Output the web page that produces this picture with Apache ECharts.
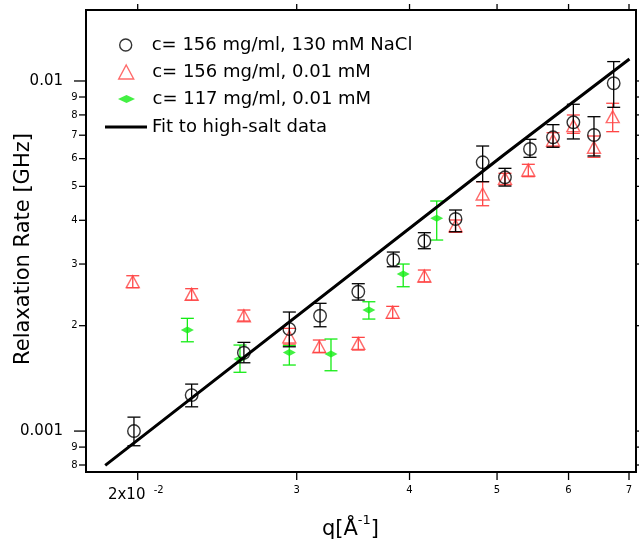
<!DOCTYPE html>
<html>
<head>
<meta charset="utf-8">
<script src="https://cdn.jsdelivr.net/npm/echarts@6/dist/echarts.min.js"></script>
<style>
  html, body { margin: 0; padding: 0; background: #fff; }
  #chart { width: 639px; height: 549px; }
</style>
</head>
<body>
<div id="chart"></div>
<script>
// ---- Axis ranges (q in 1/Å, relaxation rate in GHz) ----
const qMin = 0.01753, qMax = 0.07126;
const rateMin = 0.000764, rateMax = 0.01595;

// ---- Tick values and labels ----
const qTicks = [0.02, 0.03, 0.04, 0.05, 0.06, 0.07];
const qTickLabels = ['2x10', '3', '4', '5', '6', '7'];
const qTickExponents = ['-2', '', '', '', '', ''];
const rateMajorTicks = [0.001, 0.01];
const rateMajorLabels = ['0.001', '0.01'];
const rateMinorTicks = [0.0008, 0.0009, 0.002, 0.003, 0.004, 0.005, 0.006, 0.007, 0.008, 0.009];
const rateMinorLabels = ['8', '9', '2', '3', '4', '5', '6', '7', '8', '9'];

// ---- c = 156 mg/ml, 130 mM NaCl ----
const nameSalt = 'c= 156 mg/ml, 130 mM NaCl';
const qSalt = [0.01981, 0.02295, 0.02622, 0.02944, 0.03184, 0.0351, 0.03838, 0.04154,
               0.04498, 0.0482, 0.05102, 0.05438, 0.05767, 0.06074, 0.06402, 0.06732];
const rateSalt = [0.001000, 0.001267, 0.001674, 0.001956, 0.002135, 0.002500, 0.00308, 0.00349,
                  0.004034, 0.005858, 0.005307, 0.006393, 0.006905, 0.00762, 0.00701, 0.00985];
const rateSaltLo = [0.000908, 0.001173, 0.001567, 0.001741, 0.001986, 0.002367, 0.002947, 0.003318,
                    0.00371, 0.005156, 0.00501, 0.006053, 0.006466, 0.00683, 0.006107, 0.00841];
const rateSaltHi = [0.001096, 0.001362, 0.001792, 0.002188, 0.002317, 0.002636, 0.003246, 0.003687,
                    0.00428, 0.00652, 0.00563, 0.006814, 0.007503, 0.00858, 0.007907, 0.01136];

// ---- c = 156 mg/ml, 0.01 mM ----
const nameLow = 'c= 156 mg/ml, 0.01 mM';
const qLow = [0.01975, 0.02295, 0.02622, 0.02944, 0.03178, 0.0351, 0.03832, 0.04154,
              0.04498, 0.0482, 0.05102, 0.05415, 0.05767, 0.06074, 0.06402, 0.06715];
const rateLow = [0.002671, 0.002458, 0.002135, 0.001859, 0.001741, 0.001780, 0.002184, 0.002773,
                 0.00386, 0.004755, 0.005272, 0.005568, 0.006785, 0.007454, 0.006466, 0.007907];
const rateLowLo = [0.002567, 0.002367, 0.002062, 0.001772, 0.001678, 0.001704, 0.002099, 0.002666,
                   0.003696, 0.004402, 0.005046, 0.00533, 0.006492, 0.007088, 0.006053, 0.007165];
const rateLowHi = [0.002778, 0.002551, 0.002217, 0.001965, 0.001820, 0.001852, 0.002271, 0.002884,
                   0.004008, 0.005156, 0.005449, 0.005781, 0.007116, 0.007996, 0.006964, 0.008637];

// ---- c = 117 mg/ml, 0.01 mM ----
const nameMid = 'c= 117 mg/ml, 0.01 mM';
const qMid = [0.0227, 0.02596, 0.02944, 0.03274, 0.03606, 0.03936, 0.04287];
const rateMid = [0.001943, 0.001606, 0.001678, 0.001660, 0.002217, 0.002809, 0.004053];
const rateMidLo = [0.001799, 0.001472, 0.001544, 0.001487, 0.002089, 0.002584, 0.003513];
const rateMidHi = [0.002099, 0.001761, 0.001755, 0.001832, 0.002341, 0.003000, 0.004541];

// ---- Fit to high-salt data ----
const nameFit = 'Fit to high-salt data';
const fitQ = [0.01841, 0.05102, 0.07008];
const fitRate = [0.000798, 0.006185, 0.011557];

const RED = '#ff4545';
const GREEN = '#14ec14';
const FONT = '"DejaVu Sans", sans-serif';

function errorBar(color) {
  return function (params, api) {
    const q = api.value(0);
    const lo = api.coord([q, api.value(1)]);
    const hi = api.coord([q, api.value(2)]);
    const half = 6.5;
    const style = { stroke: color, lineWidth: 1.3, fill: null };
    return {
      type: 'group',
      children: [
        { type: 'line', shape: { x1: hi[0], y1: hi[1], x2: lo[0], y2: lo[1] }, style: style },
        { type: 'line', shape: { x1: hi[0] - half, y1: hi[1], x2: hi[0] + half, y2: hi[1] }, style: style },
        { type: 'line', shape: { x1: lo[0] - half, y1: lo[1], x2: lo[0] + half, y2: lo[1] }, style: style }
      ]
    };
  };
}

function zip(xs, a, b) {
  return xs.map((x, i) => b ? [x, a[i], b[i]] : [x, a[i]]);
}

// Bottom and top ticks of the q axis, with the bottom labels
function qTickRenderer(params, api) {
  const i = params.dataIndex;
  const q = api.value(0);
  const b = api.coord([q, rateMin]);
  const t = api.coord([q, rateMax]);
  const ts = { stroke: '#000', lineWidth: 1.3 };
  const children = [
    { type: 'line', shape: { x1: b[0], y1: b[1], x2: b[0], y2: b[1] + 8 }, style: ts },
    { type: 'line', shape: { x1: t[0], y1: t[1], x2: t[0], y2: t[1] - 6 }, style: ts }
  ];
  if (qTickExponents[i]) {
    children.push({ type: 'text', x: b[0] - 11, y: b[1] + 23,
      style: { text: qTickLabels[i], font: '15px ' + FONT, fill: '#000', align: 'center', verticalAlign: 'middle' } });
    children.push({ type: 'text', x: b[0] + 21, y: b[1] + 18,
      style: { text: qTickExponents[i], font: '10px ' + FONT, fill: '#000', align: 'center', verticalAlign: 'middle' } });
  } else {
    children.push({ type: 'text', x: b[0], y: b[1] + 18,
      style: { text: qTickLabels[i], font: '10px ' + FONT, fill: '#000', align: 'center', verticalAlign: 'middle' } });
  }
  return { type: 'group', children: children };
}

// Left and right ticks of the rate axis
function rateTickRenderer(labels, major) {
  return function (params, api) {
    const i = params.dataIndex;
    const v = api.value(1);
    const l = api.coord([qMin, v]);
    const r = api.coord([qMax, v]);
    const ts = { stroke: '#000', lineWidth: 1.3 };
    const len = major ? 12 : 7;
    return {
      type: 'group',
      children: [
        { type: 'line', shape: { x1: l[0] - len, y1: l[1], x2: l[0], y2: l[1] }, style: ts },
        { type: 'line', shape: { x1: r[0], y1: r[1], x2: r[0] + 4, y2: r[1] }, style: ts },
        { type: 'text', x: l[0] - (major ? 23 : 8.5), y: l[1],
          style: { text: labels[i], font: (major ? '15px ' : '10px ') + FONT, fill: '#000',
                   align: 'right', verticalAlign: 'middle' } }
      ]
    };
  };
}

const legendBase = {
  orient: 'horizontal', padding: 0, itemGap: 0, selectedMode: false, itemWidth: 42,
  textStyle: { fontFamily: 'DejaVu Sans', fontSize: 18, color: '#000' }
};

const option = {
  animation: false,
  backgroundColor: '#fff',
  grid: {
    left: 86, right: 3, top: 10, bottom: 77,
    show: true, borderColor: '#000', borderWidth: 2,
    containLabel: false, outerBoundsMode: 'none'
  },
  xAxis: {
    type: 'log', logBase: 10, min: qMin, max: qMax,
    axisLine: { show: false }, axisTick: { show: false }, axisLabel: { show: false }, splitLine: { show: false },
    name: '{b|q[Å}{s|-1}{b|]}', nameLocation: 'middle', nameGap: 42,
    nameTextStyle: {
      padding: [0, 21, 0, 0],
      rich: {
        b: { fontFamily: 'DejaVu Sans', fontSize: 21, color: '#000', lineHeight: 26, verticalAlign: 'bottom' },
        s: { fontFamily: 'DejaVu Sans', fontSize: 13, color: '#000', lineHeight: 26, verticalAlign: 'top' }
      }
    }
  },
  yAxis: {
    type: 'log', logBase: 10, min: rateMin, max: rateMax,
    axisLine: { show: false }, axisTick: { show: false }, axisLabel: { show: false }, splitLine: { show: false },
    name: 'Relaxation Rate [GHz]', nameLocation: 'middle', nameGap: 52, nameRotate: 90,
    nameTextStyle: { fontFamily: 'DejaVu Sans', fontSize: 21, color: '#000', padding: [0, 16, 0, 0] }
  },
  legend: [
    Object.assign({}, legendBase, {
      left: 119, top: 36, itemHeight: 12, data: [{ name: nameSalt, icon: 'circle' }],
      itemStyle: { color: 'rgba(0,0,0,0)', borderColor: '#000', borderWidth: 1.4 }
    }),
    Object.assign({}, legendBase, {
      left: 118, top: 63, itemHeight: 14, data: [{ name: nameLow, icon: 'path://M0,0L7.5,14L-7.5,14Z' }],
      itemStyle: { color: 'rgba(0,0,0,0)', borderColor: RED, borderWidth: 1.4 }
    }),
    Object.assign({}, legendBase, {
      left: 118, top: 90, itemHeight: 8, data: [{ name: nameMid, icon: 'path://M0,0L8.5,4L0,8L-8.5,4Z' }],
      itemStyle: { color: GREEN, borderWidth: 0 }
    }),
    Object.assign({}, legendBase, {
      left: 105, top: 118, itemHeight: 14, data: [{ name: nameFit, icon: 'path://M0,0L45,0L45,3L0,3Z' }],
      itemStyle: { color: '#000', borderWidth: 0 }
    })
  ],
  series: [
    { name: 'err-low', type: 'custom', clip: false, renderItem: errorBar(RED),
      encode: { x: 0, y: [1, 2] }, data: zip(qLow, rateLowLo, rateLowHi), z: 2 },
    { name: nameLow, type: 'scatter', data: zip(qLow, rateLow), symbol: 'triangle', symbolSize: [13, 12],
      itemStyle: { color: 'rgba(0,0,0,0)', borderColor: RED, borderWidth: 1.4 }, z: 3 },
    { name: 'err-mid', type: 'custom', clip: false, renderItem: errorBar(GREEN),
      encode: { x: 0, y: [1, 2] }, data: zip(qMid, rateMidLo, rateMidHi), z: 4 },
    { name: nameMid, type: 'scatter', data: zip(qMid, rateMid), symbol: 'diamond', symbolSize: [13, 7],
      itemStyle: { color: GREEN }, z: 5 },
    { name: 'err-salt', type: 'custom', clip: false, renderItem: errorBar('#000'),
      encode: { x: 0, y: [1, 2] }, data: zip(qSalt, rateSaltLo, rateSaltHi), z: 6 },
    { name: nameSalt, type: 'scatter', data: zip(qSalt, rateSalt), symbol: 'circle', symbolSize: 12.5,
      itemStyle: { color: 'rgba(0,0,0,0)', borderColor: '#000', borderWidth: 1.4 }, z: 7 },
    { name: nameFit, type: 'line', data: zip(fitQ, fitRate), symbol: 'none', showSymbol: false,
      lineStyle: { color: '#000', width: 3 }, z: 8 },
    { name: 'q-ticks', type: 'custom', clip: false, renderItem: qTickRenderer,
      data: qTicks.map(q => [q, rateMin]), z: 9, silent: true },
    { name: 'rate-major', type: 'custom', clip: false, renderItem: rateTickRenderer(rateMajorLabels, true),
      data: rateMajorTicks.map(v => [qMin, v]), z: 9, silent: true },
    { name: 'rate-minor', type: 'custom', clip: false, renderItem: rateTickRenderer(rateMinorLabels, false),
      data: rateMinorTicks.map(v => [qMin, v]), z: 9, silent: true }
  ]
};

const chart = echarts.init(document.getElementById('chart'), null, { renderer: 'canvas' });
chart.setOption(option);
</script>
</body>
</html>
